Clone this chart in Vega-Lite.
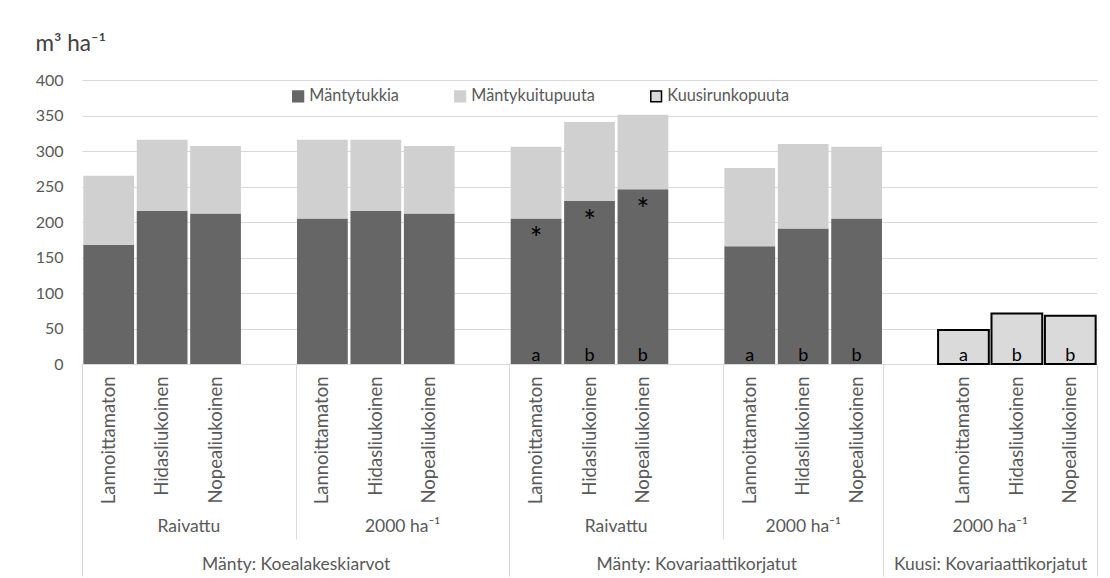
{
  "$schema": "https://vega.github.io/schema/vega-lite/v6.json",
  "width": 1015,
  "height": 284,
  "autosize": {"type": "none"},
  "padding": {"left": 82, "top": 80, "right": 13, "bottom": 214},
  "background": "white",
  "config": {
    "font": "Lato",
    "view": {"stroke": null},
    "axisY": {
      "grid": true,
      "gridColor": "#d9d9d9",
      "domain": false,
      "ticks": false,
      "labelPadding": 19,
      "labelFontSize": 16,
      "labelColor": "#595959",
      "labelOverlap": false,
      "titleAngle": 0,
      "titleAlign": "left",
      "titleBaseline": "alphabetic",
      "titleX": -47,
      "titleY": -30,
      "titleFontSize": 22.5,
      "titleFontWeight": "normal",
      "titleColor": "#404040"
    },
    "legend": {
      "orient": "none",
      "legendX": 208,
      "legendY": 8,
      "direction": "horizontal",
      "columnPadding": 52,
      "symbolType": "square",
      "symbolSize": 115,
      "symbolStrokeWidth": 1.5,
      "labelFontSize": 16.3,
      "labelColor": "#595959",
      "labelOffset": 3,
      "padding": 0
    }
  },
  "data": {
    "values": [
      {"sarake": "Mänty: Koealakeskiarvot|Raivattu|Lannoittamaton", "laji": "Mäntytukkia", "arvo": 168},
      {"sarake": "Mänty: Koealakeskiarvot|Raivattu|Lannoittamaton", "laji": "Mäntykuitupuuta", "arvo": 97},
      {"sarake": "Mänty: Koealakeskiarvot|Raivattu|Hidasliukoinen", "laji": "Mäntytukkia", "arvo": 216},
      {"sarake": "Mänty: Koealakeskiarvot|Raivattu|Hidasliukoinen", "laji": "Mäntykuitupuuta", "arvo": 100},
      {"sarake": "Mänty: Koealakeskiarvot|Raivattu|Nopealiukoinen", "laji": "Mäntytukkia", "arvo": 212},
      {"sarake": "Mänty: Koealakeskiarvot|Raivattu|Nopealiukoinen", "laji": "Mäntykuitupuuta", "arvo": 95},
      {"sarake": "Mänty: Koealakeskiarvot|2000 ha⁻¹|Lannoittamaton", "laji": "Mäntytukkia", "arvo": 205},
      {"sarake": "Mänty: Koealakeskiarvot|2000 ha⁻¹|Lannoittamaton", "laji": "Mäntykuitupuuta", "arvo": 111},
      {"sarake": "Mänty: Koealakeskiarvot|2000 ha⁻¹|Hidasliukoinen", "laji": "Mäntytukkia", "arvo": 216},
      {"sarake": "Mänty: Koealakeskiarvot|2000 ha⁻¹|Hidasliukoinen", "laji": "Mäntykuitupuuta", "arvo": 100},
      {"sarake": "Mänty: Koealakeskiarvot|2000 ha⁻¹|Nopealiukoinen", "laji": "Mäntytukkia", "arvo": 212},
      {"sarake": "Mänty: Koealakeskiarvot|2000 ha⁻¹|Nopealiukoinen", "laji": "Mäntykuitupuuta", "arvo": 95},
      {"sarake": "Mänty: Kovariaattikorjatut|Raivattu|Lannoittamaton", "laji": "Mäntytukkia", "arvo": 205, "tahti": "*", "kirjain": "a"},
      {"sarake": "Mänty: Kovariaattikorjatut|Raivattu|Lannoittamaton", "laji": "Mäntykuitupuuta", "arvo": 101},
      {"sarake": "Mänty: Kovariaattikorjatut|Raivattu|Hidasliukoinen", "laji": "Mäntytukkia", "arvo": 230, "tahti": "*", "kirjain": "b"},
      {"sarake": "Mänty: Kovariaattikorjatut|Raivattu|Hidasliukoinen", "laji": "Mäntykuitupuuta", "arvo": 111},
      {"sarake": "Mänty: Kovariaattikorjatut|Raivattu|Nopealiukoinen", "laji": "Mäntytukkia", "arvo": 246, "tahti": "*", "kirjain": "b"},
      {"sarake": "Mänty: Kovariaattikorjatut|Raivattu|Nopealiukoinen", "laji": "Mäntykuitupuuta", "arvo": 105},
      {"sarake": "Mänty: Kovariaattikorjatut|2000 ha⁻¹|Lannoittamaton", "laji": "Mäntytukkia", "arvo": 166, "kirjain": "a"},
      {"sarake": "Mänty: Kovariaattikorjatut|2000 ha⁻¹|Lannoittamaton", "laji": "Mäntykuitupuuta", "arvo": 110},
      {"sarake": "Mänty: Kovariaattikorjatut|2000 ha⁻¹|Hidasliukoinen", "laji": "Mäntytukkia", "arvo": 191, "kirjain": "b"},
      {"sarake": "Mänty: Kovariaattikorjatut|2000 ha⁻¹|Hidasliukoinen", "laji": "Mäntykuitupuuta", "arvo": 119},
      {"sarake": "Mänty: Kovariaattikorjatut|2000 ha⁻¹|Nopealiukoinen", "laji": "Mäntytukkia", "arvo": 205, "kirjain": "b"},
      {"sarake": "Mänty: Kovariaattikorjatut|2000 ha⁻¹|Nopealiukoinen", "laji": "Mäntykuitupuuta", "arvo": 101},
      {"sarake": "Kuusi: Kovariaattikorjatut|2000 ha⁻¹|Lannoittamaton", "laji": "Kuusirunkopuuta", "arvo": 48, "kirjain": "a"},
      {"sarake": "Kuusi: Kovariaattikorjatut|2000 ha⁻¹|Hidasliukoinen", "laji": "Kuusirunkopuuta", "arvo": 71, "kirjain": "b"},
      {"sarake": "Kuusi: Kovariaattikorjatut|2000 ha⁻¹|Nopealiukoinen", "laji": "Kuusirunkopuuta", "arvo": 68, "kirjain": "b"}
    ]
  },
  "resolve": {"axis": {"x": "independent"}},
  "layer": [
    {
      "transform": [{"filter": "datum.laji !== 'Kuusirunkopuuta'"}],
      "mark": {"type": "bar", "strokeWidth": 0},
      "encoding": {
        "x": {
          "field": "sarake",
          "type": "nominal",
          "scale": {
            "domain": [
              "Mänty: Koealakeskiarvot|Raivattu|Lannoittamaton",
              "Mänty: Koealakeskiarvot|Raivattu|Hidasliukoinen",
              "Mänty: Koealakeskiarvot|Raivattu|Nopealiukoinen",
              "Mänty: Koealakeskiarvot|Raivattu|",
              "Mänty: Koealakeskiarvot|2000 ha⁻¹|Lannoittamaton",
              "Mänty: Koealakeskiarvot|2000 ha⁻¹|Hidasliukoinen",
              "Mänty: Koealakeskiarvot|2000 ha⁻¹|Nopealiukoinen",
              "Mänty: Koealakeskiarvot|2000 ha⁻¹|",
              "Mänty: Kovariaattikorjatut|Raivattu|Lannoittamaton",
              "Mänty: Kovariaattikorjatut|Raivattu|Hidasliukoinen",
              "Mänty: Kovariaattikorjatut|Raivattu|Nopealiukoinen",
              "Mänty: Kovariaattikorjatut|Raivattu|",
              "Mänty: Kovariaattikorjatut|2000 ha⁻¹|Lannoittamaton",
              "Mänty: Kovariaattikorjatut|2000 ha⁻¹|Hidasliukoinen",
              "Mänty: Kovariaattikorjatut|2000 ha⁻¹|Nopealiukoinen",
              "Kuusi: Kovariaattikorjatut|2000 ha⁻¹|",
              "Kuusi: Kovariaattikorjatut|2000 ha⁻¹|Lannoittamaton",
              "Kuusi: Kovariaattikorjatut|2000 ha⁻¹|Hidasliukoinen",
              "Kuusi: Kovariaattikorjatut|2000 ha⁻¹|Nopealiukoinen"
            ],
            "paddingInner": 0.05,
            "paddingOuter": 0.025
          },
          "axis": {
            "orient": "bottom",
            "title": null,
            "labelExpr": "split(datum.value, '|')[2]",
            "ticks": false,
            "domain": true,
            "domainColor": "#d9d9d9",
            "grid": false,
            "labelAngle": 270,
            "labelAlign": "right",
            "labelBaseline": "middle",
            "labelPadding": 12,
            "labelFontSize": 18.5,
            "labelColor": "#595959",
            "labelLimit": 400,
            "labelOverlap": false
          }
        },
        "y": {
          "field": "arvo",
          "type": "quantitative",
          "stack": "zero",
          "title": "m³ ha⁻¹",
          "scale": {"domain": [0, 400], "nice": false},
          "axis": {"values": [0, 50, 100, 150, 200, 250, 300, 350, 400], "tickCount": 10}
        },
        "color": {
          "field": "laji",
          "type": "nominal",
          "title": null,
          "scale": {
            "domain": ["Mäntytukkia", "Mäntykuitupuuta", "Kuusirunkopuuta"],
            "range": ["#666666", "#d0d0d0", "#dadada"]
          }
        },
        "stroke": {
          "field": "laji",
          "type": "nominal",
          "title": null,
          "scale": {
            "domain": ["Mäntytukkia", "Mäntykuitupuuta", "Kuusirunkopuuta"],
            "range": ["#666666", "#d0d0d0", "#000000"]
          }
        },
        "order": {"field": "laji", "sort": "descending"}
      }
    },
    {
      "transform": [{"filter": "datum.laji === 'Kuusirunkopuuta'"}],
      "mark": {"type": "bar", "strokeWidth": 2},
      "encoding": {
        "x": {
          "field": "sarake",
          "type": "nominal",
          "axis": {
            "orient": "bottom",
            "title": null,
            "values": [
              "Mänty: Koealakeskiarvot|Raivattu|",
              "Mänty: Koealakeskiarvot|2000 ha⁻¹|",
              "Mänty: Kovariaattikorjatut|Raivattu|",
              "Mänty: Kovariaattikorjatut|2000 ha⁻¹|Nopealiukoinen",
              "Kuusi: Kovariaattikorjatut|2000 ha⁻¹|Nopealiukoinen"
            ],
            "labels": false,
            "domain": false,
            "grid": false,
            "ticks": true,
            "tickOffset": 26.71,
            "tickColor": "#d9d9d9",
            "tickWidth": 1,
            "tickSize": {"condition": {"test": "split(datum.value, '|')[1] === 'Raivattu'", "value": 175}, "value": 212}
          }
        },
        "y": {
          "field": "arvo",
          "type": "quantitative",
          "title": "m³ ha⁻¹",
          "axis": {"values": [0, 50, 100, 150, 200, 250, 300, 350, 400], "tickCount": 10}
        },
        "color": {"field": "laji", "type": "nominal", "title": null},
        "stroke": {"field": "laji", "type": "nominal", "title": null}
      }
    },
    {
      "transform": [{"filter": "isValid(datum.tahti)"}],
      "mark": {"type": "text", "fontSize": 30, "dy": 31, "baseline": "alphabetic", "color": "#000000"},
      "encoding": {
        "x": {
          "field": "sarake",
          "type": "nominal",
          "axis": {
            "orient": "bottom",
            "title": null,
            "values": [
              "Mänty: Koealakeskiarvot|Raivattu|Lannoittamaton",
              "Mänty: Koealakeskiarvot|2000 ha⁻¹|Lannoittamaton",
              "Mänty: Kovariaattikorjatut|Raivattu|Lannoittamaton",
              "Mänty: Kovariaattikorjatut|2000 ha⁻¹|Lannoittamaton",
              "Kuusi: Kovariaattikorjatut|2000 ha⁻¹|"
            ],
            "labelExpr": "split(datum.value, '|')[1]",
            "ticks": false,
            "domain": false,
            "grid": false,
            "labelAngle": 0,
            "labelAlign": "center",
            "labelBaseline": "alphabetic",
            "labelPadding": 167,
            "labelOffset": {"condition": {"test": "datum.value === 'Mänty: Kovariaattikorjatut|2000 ha⁻¹|Lannoittamaton'", "value": 53.42}, "value": 80.13},
            "labelFontSize": 17.5,
            "labelColor": "#595959",
            "labelLimit": 400,
            "labelOverlap": false
          }
        },
        "y": {
          "field": "arvo",
          "type": "quantitative",
          "title": "m³ ha⁻¹",
          "axis": {"values": [0, 50, 100, 150, 200, 250, 300, 350, 400], "tickCount": 10}
        },
        "text": {"field": "tahti"}
      }
    },
    {
      "transform": [{"filter": "isValid(datum.kirjain)"}],
      "mark": {"type": "text", "fontSize": 18, "dy": -3, "baseline": "alphabetic", "color": "#000000"},
      "encoding": {
        "x": {
          "field": "sarake",
          "type": "nominal",
          "axis": {
            "orient": "bottom",
            "title": null,
            "values": [
              "Mänty: Koealakeskiarvot|Raivattu|Lannoittamaton",
              "Mänty: Kovariaattikorjatut|Raivattu|Lannoittamaton",
              "Kuusi: Kovariaattikorjatut|2000 ha⁻¹|"
            ],
            "labelExpr": "split(datum.value, '|')[0]",
            "domain": false,
            "grid": false,
            "ticks": true,
            "tickSize": 212,
            "tickOffset": -26.71,
            "tickColor": "#d9d9d9",
            "tickWidth": 1,
            "labelAngle": 0,
            "labelAlign": "center",
            "labelBaseline": "alphabetic",
            "labelPadding": -7,
            "labelOffset": {
              "condition": [
                {"test": "datum.value === 'Mänty: Koealakeskiarvot|Raivattu|Lannoittamaton'", "value": 213.7},
                {"test": "datum.value === 'Mänty: Kovariaattikorjatut|Raivattu|Lannoittamaton'", "value": 187.0}
              ],
              "value": 106.8
            },
            "labelFontSize": 17.5,
            "labelColor": "#595959",
            "labelLimit": 400,
            "labelOverlap": false
          }
        },
        "y": {
          "datum": 0,
          "type": "quantitative",
          "title": "m³ ha⁻¹",
          "axis": {"values": [0, 50, 100, 150, 200, 250, 300, 350, 400], "tickCount": 10}
        },
        "text": {"field": "kirjain"}
      }
    }
  ]
}
